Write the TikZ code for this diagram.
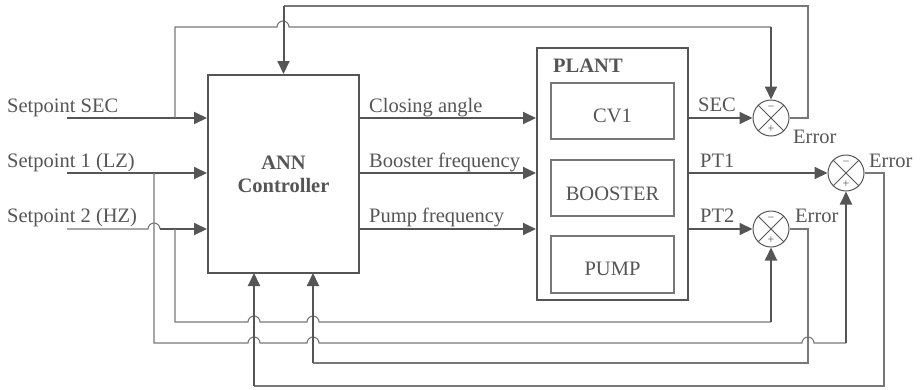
\documentclass[tikz,border=0pt]{standalone}
\usepackage{fontspec}
\setmainfont{Liberation Serif}
\usetikzlibrary{arrows.meta}
\definecolor{dk}{RGB}{85,85,85}
\definecolor{lt}{RGB}{120,120,120}
\begin{document}
\begin{tikzpicture}[x=1pt,y=-1pt,
  font=\fontsize{20.5}{23}\selectfont, text=dk,
  thk/.style={draw=dk, line width=2pt},
  thn/.style={draw=lt, line width=1.1pt},
  arr/.style={-{Triangle[length=13pt,width=12pt]}},
  lbl/.style={anchor=base west, inner sep=0pt},
  btxt/.style={anchor=base, inner sep=0pt},
  sumc/.style={circle, draw=dk, line width=1pt, minimum size=36pt, inner sep=0pt},
  inbox/.style={draw=lt, line width=1.3pt, minimum width=123pt, inner sep=0pt},
  sgn/.style={font=\fontsize{12}{12}\selectfont, inner sep=0pt, text=dk}]
\useasboundingbox (0,0) rectangle (921,389);

% blocks
\node[draw=dk, line width=2pt, minimum width=151pt, minimum height=198pt,
      align=center, font=\fontsize{20.5}{23}\selectfont\bfseries] (ann) at (283.5,174) {ANN\\Controller};
\node[draw=dk, line width=2pt, minimum width=151pt, minimum height=252pt] (plant) at (612.5,174) {};
\node[lbl, font=\fontsize{20.5}{23}\selectfont\bfseries] (plantlbl) at (553,72) {PLANT};
\node[inbox, minimum height=56pt] (cv) at (612.5,111) {};
\node[inbox, minimum height=56pt] (boost) at (612.5,188) {};
\node[inbox, minimum height=57pt] (pump) at (612.5,264.5) {};
\node[btxt] (cvt) at ([yshift=-11pt]cv.center) {CV1};
\node[btxt] (boostt) at ([yshift=-12.5pt]boost.center) {BOOSTER};
\node[btxt] (pumpt) at ([yshift=-10.5pt]pump.center) {PUMP};

% summing junctions
\foreach \n/\px/\py in {s1/771/118, s2/846/173, s3/771/229}{
  \node[sumc] (\n) at (\px,\py) {};
  \draw[dk, line width=0.8pt] (\n.45) -- (\n.225) (\n.135) -- (\n.315);
  \node[sgn] (\n m) at ([yshift=9.5pt]\n.center) {−};
  \node[sgn] (\n p) at ([yshift=-11pt]\n.center) {+};
}

% level coordinates
\coordinate (ya) at (0,118);
\coordinate (yb) at (0,173);
\coordinate (yc) at (0,229);
\coordinate (i1) at (67,118);
\coordinate (i2) at (67,173);
\coordinate (i3) at (67,229);

% labels
\node[lbl] (t1) at (7,112) {Setpoint SEC};
\node[lbl] (t2) at (7,167) {Setpoint 1 (LZ)};
\node[lbl] (t3) at (7,222) {Setpoint 2 (HZ)};
\node[lbl] (t4) at (369,112) {Closing angle};
\node[lbl] (t5) at (369,167) {Booster frequency};
\node[lbl] (t6) at (369,222) {Pump frequency};
\node[lbl] (t7) at (698,111) {SEC};
\node[lbl] (t8) at (700,167) {PT1};
\node[lbl] (t9) at (700,222) {PT2};
\node[lbl] (e1) at (793,143) {Error};
\node[lbl] (e2) at (869,167) {Error};
\node[lbl] (e3) at (795,222) {Error};

% input lines
\draw[thk,arr] (i1) -- (i1 -| ann.west);
\draw[thk,arr] (i2) -- (i2 -| ann.west);
\draw[thn] (i3) -- (148,229) arc[start angle=180, end angle=0, radius=6pt];
\draw[thk,arr] (160,229) -- (i3 -| ann.west);

% controller outputs
\draw[thk,arr] (ann.east |- ya) -- (plant.west |- ya);
\draw[thk,arr] (ann.east |- yb) -- (plant.west |- yb);
\draw[thk,arr] (ann.east |- yc) -- (plant.west |- yc);

% plant outputs
\draw[thk,arr] (plant.east |- ya) -- (s1.west);
\draw[thk,arr] (plant.east |- yb) -- (s2.west);
\draw[thk,arr] (plant.east |- yc) -- (s3.west);

% setpoint SEC to sum 1
\draw[thn] (175,118) -- (175,27) -- (277,27) arc[start angle=180, end angle=0, radius=6pt] -- (771,27);
\draw[thk,arr] (771,27) -- (s1.north);

% error SEC back to controller
\draw[thn] (s1.east) -- (808,118) -- (808,6) -- (283.5,6);
\draw[thk,arr] (283.5,6) -- (ann.north);

% setpoint 1 to sum 2
\draw[thn] (154,173) -- (154,343) -- (248,343) arc[start angle=180, end angle=0, radius=6pt]
  -- (307,343) arc[start angle=180, end angle=0, radius=6pt]
  -- (802,343) arc[start angle=180, end angle=0, radius=6pt] -- (846,343);
\draw[thk,arr] (846,343) -- (s2.south);

% setpoint 2 to sum 3
\draw[thn] (175,229) -- (175,322) -- (248,322) arc[start angle=180, end angle=0, radius=6pt]
  -- (307,322) arc[start angle=180, end angle=0, radius=6pt] -- (771,322);
\draw[thk,arr] (771,322) -- (s3.south);

% error PT2 back
\draw[thn] (s3.east) -- (808,229) -- (808,363) -- (313,363);
\draw[thk,arr] (313,363) -- (313,273);

% error PT1 back
\draw[thn] (s2.east) -- (884,173) -- (884,386) -- (254,386);
\draw[thk,arr] (254,386) -- (254,273);
\end{tikzpicture}
\end{document}
